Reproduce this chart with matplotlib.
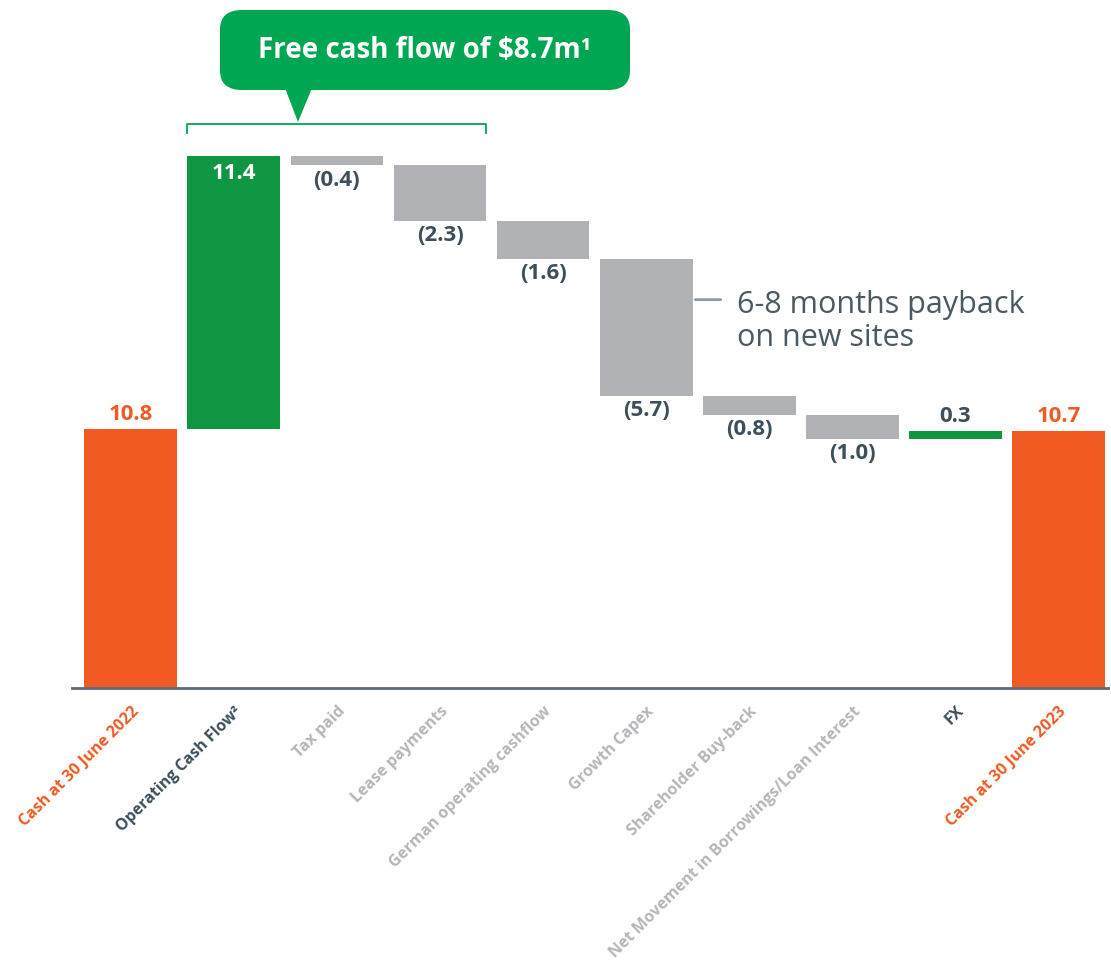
import matplotlib.pyplot as plt
from matplotlib.patches import FancyBboxPatch, Polygon

plt.rcParams['font.family'] = ['Open Sans', 'DejaVu Sans']

categories = ['Cash at 30 June 2022', 'Operating Cash Flow²', 'Tax paid', 'Lease payments',
              'German operating cashflow', 'Growth Capex', 'Shareholder Buy-back',
              'Net Movement in Borrowings/Loan Interest', 'FX', 'Cash at 30 June 2023']
values = [10.8, 11.4, -0.4, -2.3, -1.6, -5.7, -0.8, -1.0, 0.3, 10.7]
kinds = ['total', 'up', 'down', 'down', 'down', 'down', 'down', 'down', 'up', 'total']

ORANGE = '#F15A22'
GREEN = '#0F9642'
CALLOUT = '#00A651'
GREY = '#B1B2B5'
SLATE = '#3D4F5A'
LABEL_GREY = '#B5B6B9'

bar_colors = {'total': ORANGE, 'up': GREEN, 'down': GREY}
tick_colors = [ORANGE, SLATE, LABEL_GREY, LABEL_GREY, LABEL_GREY, LABEL_GREY,
               LABEL_GREY, LABEL_GREY, SLATE, ORANGE]

# waterfall bottoms
bottoms = []
running = 0
for v, k in zip(values, kinds):
    if k == 'total':
        bottoms.append(0)
        running = v
    else:
        bottoms.append(running if v > 0 else running + v)
        running += v
heights = [abs(v) for v in values]

fig = plt.figure(figsize=(11.11, 9.63), dpi=100)
ax = fig.add_axes([72 / 1111, 1 - 688 / 963, 1036 / 1111, 688 / 963])
x = list(range(len(categories)))
ax.bar(x, heights, bottom=bottoms, width=0.9,
       color=[bar_colors[k] for k in kinds], zorder=2)
ax.set_xlim(-0.57, 9.48)
ax.set_ylim(0, 28.7)

for i, (v, k) in enumerate(zip(values, kinds)):
    top = bottoms[i] + heights[i]
    if k == 'total':
        ax.annotate(f'{v:.1f}', (i, top), xytext=(0, 3), textcoords='offset points',
                    ha='center', va='bottom', fontsize=16, fontweight='bold', color=ORANGE)
    elif k == 'up' and i == 1:
        ax.annotate(f'{v:.1f}', (i, top), xytext=(0, -5), textcoords='offset points',
                    ha='center', va='top', fontsize=16, fontweight='bold', color='white')
    elif k == 'up':
        ax.annotate(f'{v:.1f}', (i, top), xytext=(0, 3), textcoords='offset points',
                    ha='center', va='bottom', fontsize=16, fontweight='bold', color=SLATE)
    else:
        ax.annotate(f'({abs(v):.1f})', (i, bottoms[i]), xytext=(0, -3), textcoords='offset points',
                    ha='center', va='top', fontsize=16, fontweight='bold', color=SLATE)

for s in ['top', 'right', 'left']:
    ax.spines[s].set_visible(False)
ax.spines['bottom'].set_color('#5D6A72')
ax.spines['bottom'].set_linewidth(2)
ax.set_yticks([])
ax.set_xticks(x)
ax.set_xticklabels(categories, rotation=45, ha='right', va='top', rotation_mode='anchor',
                   fontsize=11.5, fontweight='bold')
for lbl, c in zip(ax.get_xticklabels(), tick_colors):
    lbl.set_color(c)
ax.tick_params(axis='x', length=0, pad=11)

# payback note
ax.annotate('', xy=(5.45, 16.2), xytext=(5.75, 16.2),
            arrowprops=dict(arrowstyle='-', color='#8A99A3', lw=2))
ax.text(5.88, 15.3, '6-8 months payback\non new sites', fontsize=22, color='#4A5A63',
        va='center', ha='left', linespacing=1.15)

# callout box
W, H = 1111, 963
box = FancyBboxPatch((220 / W, 1 - 90 / H), 410 / W, 80 / H,
                     boxstyle='round,pad=0,rounding_size=0.02',
                     transform=fig.transFigure, facecolor=CALLOUT, edgecolor='none')
fig.patches.append(box)
tri = Polygon([(285 / W, 1 - 88 / H), (312 / W, 1 - 88 / H), (298 / W, 1 - 122 / H)],
              closed=True, transform=fig.transFigure, facecolor=CALLOUT, edgecolor='none')
fig.patches.append(tri)
fig.text(425 / W, 1 - 50 / H, r'Free cash flow of \$8.7m¹', color='white', fontsize=20,
         fontweight='bold', ha='center', va='center')

# bracket over OCF..Lease
bx = [187 / W, 187 / W, 486 / W, 486 / W]
by = [1 - 133 / H, 1 - 124 / H, 1 - 124 / H, 1 - 133 / H]
fig.add_artist(plt.Line2D(bx, by, color=CALLOUT, lw=1.3, transform=fig.transFigure))

plt.savefig('out.png', dpi=100)
